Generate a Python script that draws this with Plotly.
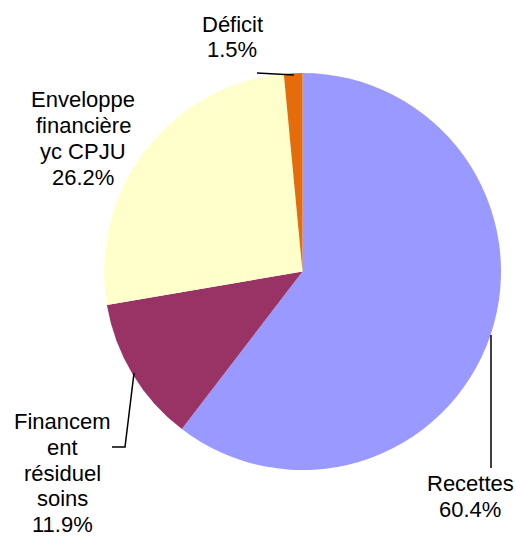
import plotly.graph_objects as go

W, H = 516, 538

# Data
categories = ["Recettes", "Financement résiduel soins", "Enveloppe financière yc CPJU", "Déficit"]
label_lines = [["Recettes"], ["Financem", "ent", "résiduel", "soins"],
               ["Enveloppe", "financière", "yc CPJU"], ["Déficit"]]
values = [60.4, 11.9, 26.2, 1.5]
colors = ["#9999FF", "#993366", "#FFFFCC", "#E46C0A"]

# label first-line centres (pixels), line spacing, and leader lines (pixels)
label_pos = [(470, 483.5), (62, 421.5), (83, 100), (232, 24)]
LINE_STEP = 25.8
leaders = [
    [(491, 335), (491, 468)],
    [(134, 373), (125, 447), (112, 447)],
    [(257, 73), (294, 75)],
]

def px(x, y):
    return x / W, 1 - y / H

fig = go.Figure(go.Pie(
    labels=categories,
    values=values,
    sort=False,
    direction="clockwise",
    rotation=0,
    marker=dict(colors=colors, line=dict(width=0)),
    textinfo="none",
    hoverinfo="label+percent",
    showlegend=False,
    domain=dict(x=[104 / W, 501 / W], y=[1 - 470 / H, 1 - 73 / H]),
))

annotations = []
for lines, v, (x, y) in zip(label_lines, values, label_pos):
    all_lines = list(lines) + [f"{v:.1f}%"]
    for i, t in enumerate(all_lines):
        ax, ay = px(x, y + i * LINE_STEP)
        annotations.append(dict(
            x=ax, y=ay, xref="paper", yref="paper",
            text=t, showarrow=False,
            xanchor="center", yanchor="middle", align="center",
            font=dict(family="Liberation Sans, Arial, sans-serif", size=22, color="#000000"),
        ))

shapes = []
for pts in leaders:
    path = "M " + " L ".join(f"{px(x, y)[0]},{px(x, y)[1]}" for x, y in pts)
    shapes.append(dict(type="path", path=path, xref="paper", yref="paper",
                       line=dict(color="#000000", width=1.5)))

fig.update_layout(
    width=W, height=H,
    margin=dict(l=0, r=0, t=0, b=0),
    paper_bgcolor="white", plot_bgcolor="white",
    annotations=annotations, shapes=shapes,
)

fig.write_html("out.html",
               config={"displayModeBar": False},
               post_script="document.body.style.margin='0';document.body.style.overflow='hidden';")
